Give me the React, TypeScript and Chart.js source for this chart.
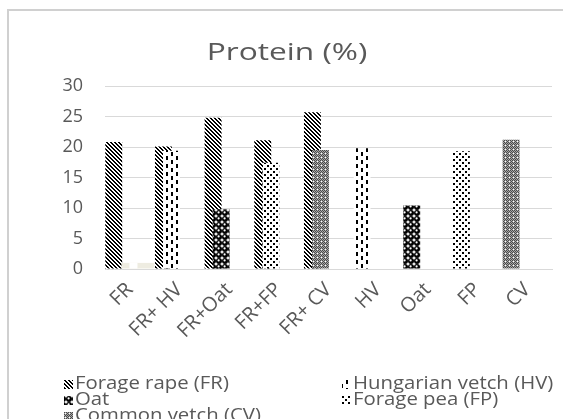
import React, { useEffect, useRef } from 'react';
import { Chart, registerables } from 'chart.js';

Chart.register(...registerables);

// ---- data ----
const chartTitle = 'Protein (%)';
const categories = ['FR', 'FR+ HV', 'FR+Oat', 'FR+FP', 'FR+ CV', 'HV', 'Oat', 'FP', 'CV'];
const speciesCodes = ['FR', 'HV', 'Oat', 'FP', 'CV'];
const speciesNames = ['Forage rape (FR)', 'Hungarian vetch (HV)', 'Oat', 'Forage pea (FP)', 'Common vetch (CV)'];
// first component of each treatment (left bar)
const firstComponent = [20.8, 20.1, 24.8, 21.1, 25.7, 19.8, 10.4, 19.3, 21.2];
const firstSpecies = ['FR', 'FR', 'FR', 'FR', 'FR', 'HV', 'Oat', 'FP', 'CV'];
// second component of mixtures (right bar)
const secondComponent = [null, 19.4, 9.8, 17.4, 19.5, null, null, null, null];
const secondSpecies = [null, 'HV', 'Oat', 'FP', 'CV', null, null, null, null];
// small unlabeled series
const extraA = [1.0, null, null, null, null, null, null, null, null];
const extraB = [1.0, null, null, null, null, null, null, null, null];
const extraC = [1.0, null, null, null, null, null, null, null, null];
const yMin = 0;
const yMax = 30;
const yStep = 5;

const TEXT = '#595959';
const GRID = '#d9d9d9';
const FONT = '"Open Sans", sans-serif';

function makePatterns(): Record<string, CanvasPattern | string> {
  const out: Record<string, CanvasPattern | string> = {};
  const mk = (w: number, h: number, draw: (g: CanvasRenderingContext2D) => void) => {
    const c = document.createElement('canvas');
    c.width = w;
    c.height = h;
    const g = c.getContext('2d')!;
    g.fillStyle = '#ffffff';
    g.fillRect(0, 0, w, h);
    draw(g);
    const p = g.createPattern(c, 'repeat');
    return p || '#000';
  };
  out.FR = mk(4, 4, (g) => {
    g.fillStyle = '#000';
    for (let y = 0; y < 4; y++) for (let x = 0; x < 4; x++) if ((x - y + 8) % 4 < 2) g.fillRect(x, y, 1, 1);
  });
  out.HV = mk(10, 8, (g) => {
    g.fillStyle = '#000';
    g.fillRect(1, 0, 2, 4);
    g.fillRect(6, 4, 2, 4);
  });
  out.Oat = mk(6, 6, (g) => {
    g.fillStyle = '#000';
    g.beginPath();
    g.arc(3, 3, 3, 0, Math.PI * 2);
    g.fill();
    g.fillStyle = '#fff';
    g.beginPath();
    g.arc(2.6, 2.4, 1.1, 0, Math.PI * 2);
    g.fill();
  });
  out.FP = mk(6, 6, (g) => {
    g.fillStyle = '#000';
    g.fillRect(0, 0, 2, 2);
    g.fillRect(3, 3, 2, 2);
  });
  out.CV = mk(4, 4, (g) => {
    for (let y = 0; y < 4; y++)
      for (let x = 0; x < 4; x++) {
        g.fillStyle = (x + y) % 2 === 0 ? '#4a4a4a' : '#a8a8a8';
        g.fillRect(x, y, 1, 1);
      }
    g.fillStyle = '#ffffff';
    g.fillRect(1, 1, 1, 1);
  });
  out.beige = '#eeece1';
  out.white = '#ffffff';
  return out;
}

export default function App() {
  const ref = useRef<HTMLCanvasElement | null>(null);

  useEffect(() => {
    document.body.style.margin = '0';
    const canvas = ref.current!;
    const patterns = makePatterns();

    const framePlugin = {
      id: 'frame',
      beforeDraw(chart: any) {
        const ctx = chart.ctx;
        ctx.save();
        ctx.fillStyle = '#ffffff';
        ctx.fillRect(0, 0, chart.width, chart.height);
        ctx.strokeStyle = '#d0d0d0';
        ctx.lineWidth = 2;
        ctx.beginPath();
        ctx.moveTo(8, chart.height + 5);
        ctx.lineTo(8, 10);
        ctx.lineTo(chart.width + 5, 10);
        ctx.stroke();
        ctx.restore();
      },
    };

    // draw datasets in index order so later series sit on top of earlier ones
    const drawOrderPlugin = {
      id: 'drawOrder',
      beforeDatasetsDraw(chart: any) {
        for (let i = 0; i < chart.data.datasets.length; i++) {
          const meta = chart.getDatasetMeta(i);
          if (chart.isDatasetVisible(i)) meta.controller.draw();
        }
        return false;
      },
    };

    // wide title, drawn with horizontal stretch like the reference
    const titlePlugin = {
      id: 'wideTitle',
      afterDraw(chart: any) {
        const ctx = chart.ctx;
        ctx.save();
        ctx.font = `24px ${FONT}`;
        ctx.fillStyle = TEXT;
        ctx.textAlign = 'center';
        ctx.textBaseline = 'middle';
        ctx.translate(287, 53);
        ctx.scale(1.32, 1);
        ctx.fillText(chartTitle, 0, 0);
        ctx.restore();
      },
    };

    const legendPlugin = {
      id: 'gridLegend',
      afterDraw(chart: any) {
        const ctx = chart.ctx;
        const colX = [64, 342];
        const rowY = [384, 400, 416];
        ctx.save();
        ctx.font = `18px ${FONT}`;
        ctx.textBaseline = 'middle';
        ctx.textAlign = 'left';
        speciesNames.forEach((name, i) => {
          const x = colX[i % 2];
          const y = rowY[Math.floor(i / 2)];
          ctx.fillStyle = patterns[speciesCodes[i]];
          ctx.fillRect(x, y - 4, 9, 9);
          ctx.fillStyle = TEXT;
          ctx.save();
          ctx.translate(x + 11, y);
          ctx.scale(1.13, 1);
          ctx.fillText(name, 0, 0);
          ctx.restore();
        });
        ctx.restore();
      },
    };

    const common = { categoryPercentage: 0.81, barPercentage: 2.1, borderWidth: 0 };

    const chart = new Chart(canvas, {
      type: 'bar',
      data: {
        labels: categories,
        datasets: [
          { label: 'first', data: firstComponent, backgroundColor: firstSpecies.map((s) => patterns[s as string]), ...common },
          { label: 'second', data: secondComponent, backgroundColor: secondSpecies.map((s) => (s ? patterns[s] : patterns.white)), ...common },
          { label: 'extraA', data: extraA, backgroundColor: patterns.beige, ...common },
          { label: 'extraB', data: extraB, backgroundColor: patterns.white, ...common },
          { label: 'extraC', data: extraC, backgroundColor: patterns.beige, ...common },
        ] as any,
      },
      options: {
        animation: false,
        responsive: false,
        layout: { padding: { left: 22, right: 11, top: 86, bottom: 80 } },
        plugins: {
          legend: { display: false },
          tooltip: { enabled: false },
          title: { display: false },
        },
        scales: {
          x: {
            grid: { display: false },
            border: { display: true, color: GRID, width: 1 },
            ticks: {
              color: TEXT,
              font: { family: FONT, size: 20 },
              minRotation: 45,
              maxRotation: 45,
              autoSkip: false,
              padding: 1,
            },
            afterFit: (s: any) => {
              s.height = 70;
            },
          },
          y: {
            min: yMin,
            max: yMax,
            stacked: false,
            grid: { color: GRID, drawTicks: false, lineWidth: 1 },
            border: { display: false },
            ticks: { stepSize: yStep, color: TEXT, font: { family: FONT, size: 18 }, padding: 22 },
            afterFit: (s: any) => {
              s.width = 83;
            },
          },
        },
      },
      plugins: [framePlugin, drawOrderPlugin, titlePlugin, legendPlugin],
    });

    return () => chart.destroy();
  }, []);

  return (
    <div style={{ width: 563, height: 419 }}>
      <canvas ref={ref} width={563} height={419} />
    </div>
  );
}
